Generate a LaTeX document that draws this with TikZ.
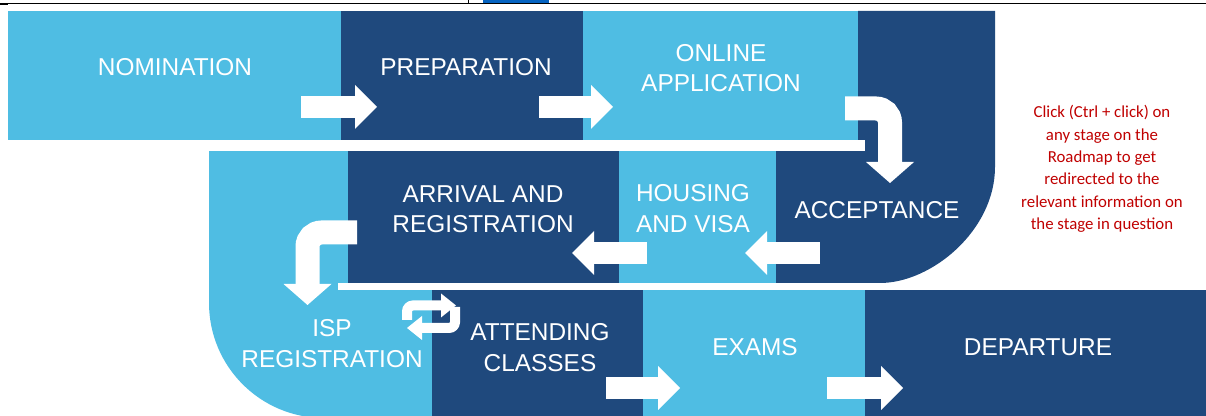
\documentclass[tikz,border=0pt]{standalone}
\usepackage{fontspec}
\setmainfont{Liberation Sans}
\newfontfamily\notefont{Carlito}
\usetikzlibrary{arrows.meta}

\definecolor{stagelight}{RGB}{79,189,227}
\definecolor{stagedark}{RGB}{31,73,125}
\definecolor{notered}{RGB}{192,0,0}
\definecolor{tabblue}{RGB}{5,99,193}

\begin{document}
\begin{tikzpicture}[x=0.5pt, y=-0.5pt,
    stage/.style={text=white, align=center, inner sep=0pt, font=\fontsize{12.2}{15.2}\selectfont},
    flow/.style={draw=white, line width=11pt, -{Triangle[length=11pt,width=22pt,line width=0pt]}},
    bent/.style={draw=white, line width=12pt, rounded corners=7pt, -{Triangle[length=10.5pt,width=24pt,line width=0pt]}},
    swap/.style={draw=white, line width=5pt, rounded corners=3pt, -{Triangle[length=7.5pt,width=12pt,line width=0pt]}}]
  \useasboundingbox (0,0) rectangle (1206,416);
  \fill[white] (0,0) rectangle (1206,416);

  % Sheet edge at the top
  \draw[line width=0.5pt] (0,3.3) -- (1206,3.3);
  \draw[line width=0.8pt] (0,4.6) -- (7.5,4.6);
  \draw[line width=0.5pt] (468,0) -- (468,3.3);
  \fill[tabblue] (483,0) rectangle (549,2.8);

  % Top row of stages
  \fill[stagelight] (8,11) rectangle (341,140);
  \fill[stagedark] (341,11) rectangle (583,140);
  \fill[stagelight] (583,11) rectangle (858,140);
  \fill[stagedark] (858,11) -- (995,11) -- (995,167)
    .. controls (995,230.5) and (931.5,283) .. (880,283)
    -- (776,283) -- (776,151) -- (858,151) -- cycle;

  % Middle row of stages
  \fill[stagelight] (209,151) -- (432,151) -- (432,418) -- (324,418)
    .. controls (260.5,418) and (209,366.5) .. (209,303) -- cycle;
  \fill[stagedark] (348,151) rectangle (619,283);
  \fill[stagelight] (619,151) rectangle (776,283);

  % Bottom row of stages
  \fill[stagedark] (432,290) rectangle (643,416);
  \fill[stagelight] (643,290) rectangle (865,416);
  \fill[stagedark] (865,290) rectangle (1206,416);

  % White gaps between the rows
  \fill[white] (8,140) rectangle (865,151);
  \fill[white] (338,283) rectangle (1206,290);

  % Stage labels
  \node[stage] (nom) at (175,67) {NOMINATION};
  \node[stage] (prep) at (466,67) {PREPARATION};
  \node[stage] (online) at (721,68) {ONLINE\\APPLICATION};
  \node[stage] (accept) at (877,210) {ACCEPTANCE};
  \node[stage] (housing) at (693,208.5) {HOUSING\\AND VISA};
  \node[stage] (arrival) at (483,209.5) {ARRIVAL AND\\REGISTRATION};
  \node[stage] (isp) at (332,343.5) {ISP\\REGISTRATION};
  \node[stage] (classes) at (540,347.5) {ATTENDING\\CLASSES};
  \node[stage] (exams) at (755,347) {EXAMS};
  \node[stage] (depart) at (1038,347) {DEPARTURE};

  % Straight flow arrows
  \foreach \n/\xa/\xb/\y in {f1/301/377/107, f2/539/613/107, f3/820/745/253,
                             f4/647/572/253, f5/606/680/388, f6/827/903/388}{
    \coordinate (\n s) at (\xa,\y);
    \coordinate (\n e) at (\xb,\y);
    \draw[flow] (\n s) -- (\n e);
  }

  % Bent arrows down to the next row
  \coordinate (b1s) at (845,108.5);
  \coordinate (b1m) at (890,108.5);
  \coordinate (b1e) at (890,183);
  \draw[bent] (b1s) -- (b1m) -- (b1e);
  \coordinate (b2s) at (357,232.5);
  \coordinate (b2m) at (307.5,232.5);
  \coordinate (b2e) at (307.5,305);
  \draw[bent] (b2s) -- (b2m) -- (b2e);

  % Back and forth between ISP and classes
  \coordinate (s1s) at (407,320);
  \coordinate (s1m) at (407,305.5);
  \coordinate (s1e) at (456,305.5);
  \draw[swap] (s1s) -- (s1m) -- (s1e);
  \coordinate (s2s) at (455,307);
  \coordinate (s2m) at (455,328);
  \coordinate (s2e) at (407,328);
  \draw[swap] (s2s) -- (s2m) -- (s2e);

  % Note
  \node[font=\notefont\fontsize{8.4}{11.15}\selectfont, text=notered, align=center, inner sep=0pt] (note) at (1102,169)
    {Click (Ctrl + click) on\\any stage on the\\Roadmap to get\\redirected to the\\relevant information on\\the stage in question};
\end{tikzpicture}
\end{document}
